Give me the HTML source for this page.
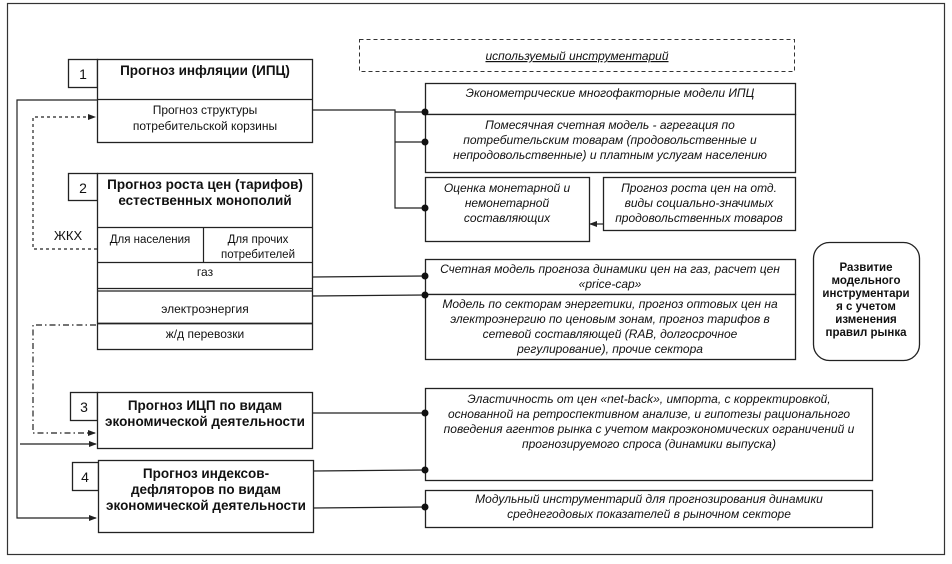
<!DOCTYPE html>
<html><head><meta charset="utf-8"><style>
html,body{margin:0;padding:0;background:#fff;}
svg{display:block;font-family:"Liberation Sans",Arial,sans-serif;}
.b{fill:#fff;stroke:#222;stroke-width:1.3}
.l{stroke:#222;stroke-width:1.2;fill:none}
.t{font-size:12px;fill:#111;text-anchor:middle}
.i{font-size:12px;fill:#111;text-anchor:middle;font-style:italic}
.h{font-size:13.5px;font-weight:bold;fill:#111;text-anchor:middle}
.n{font-size:14px;fill:#111;text-anchor:middle}
</style></head><body>
<svg width="952" height="564" viewBox="0 0 952 564" xmlns="http://www.w3.org/2000/svg">
<defs>
<marker id="a" markerWidth="8" markerHeight="8" refX="7" refY="4" orient="auto" markerUnits="userSpaceOnUse"><path d="M0,1 L8,4 L0,7z" fill="#222"/></marker>
</defs>
<rect x="7.5" y="3.5" width="937" height="551" fill="none" stroke="#333" stroke-width="1.2"/>

<rect x="359.5" y="39.5" width="435" height="32" fill="none" stroke="#333" stroke-dasharray="4,3"/>
<text x="577" y="60" class="i" style="text-decoration:underline">используемый инструментарий</text>

<rect class="b" x="68.5" y="59.5" width="29" height="28"/>
<text class="n" x="83" y="79">1</text>
<rect class="b" x="97.5" y="59.5" width="215" height="83"/>
<line class="l" x1="97" y1="99.5" x2="312" y2="99.5"/>
<text class="h" x="205" y="75">Прогноз инфляции (ИПЦ)</text>
<text class="t" x="205" y="114">Прогноз структуры</text>
<text class="t" x="205" y="130">потребительской корзины</text>

<rect class="b" x="68.5" y="173.5" width="29" height="27"/>
<text class="n" x="83" y="193">2</text>
<rect class="b" x="97.5" y="173.5" width="215" height="176"/>
<text class="h" x="205" y="189">Прогноз роста цен (тарифов)</text>
<text class="h" x="205" y="205">естественных монополий</text>
<line class="l" x1="97" y1="227.5" x2="312" y2="227.5"/>
<line class="l" x1="203.5" y1="227" x2="203.5" y2="262"/>
<text class="t" x="150" y="243" style="font-size:11.5px">Для населения</text>
<text class="t" x="258" y="243" style="font-size:11.5px">Для прочих</text>
<text class="t" x="258" y="258" style="font-size:11.5px">потребителей</text>
<line class="l" x1="97" y1="262.5" x2="312" y2="262.5"/>
<text class="t" x="205" y="276">газ</text>
<line class="l" x1="97" y1="288.5" x2="312" y2="288.5"/>
<line class="l" x1="97" y1="291" x2="312" y2="291"/>
<text class="t" x="205" y="313">электроэнергия</text>
<line class="l" x1="97" y1="323.5" x2="312" y2="323.5" style="stroke-width:1.8"/>
<text class="t" x="205" y="338">ж/д перевозки</text>

<rect class="b" x="70.5" y="392.5" width="27" height="28"/>
<text class="n" x="84" y="412">3</text>
<rect class="b" x="97.5" y="392.5" width="215" height="56"/>
<text class="h" x="205" y="410">Прогноз ИЦП по видам</text>
<text class="h" x="205" y="426">экономической деятельности</text>

<rect class="b" x="72.5" y="462.5" width="26" height="28"/>
<text class="n" x="85" y="482">4</text>
<rect class="b" x="98.5" y="460.5" width="215" height="72"/>
<text class="h" x="206" y="478">Прогноз индексов-</text>
<text class="h" x="206" y="494">дефляторов по видам</text>
<text class="h" x="206" y="510">экономической деятельности</text>

<polyline class="l" points="97,100 17,100 17,518 96,518" marker-end="url(#a)"/>
<line class="l" x1="20" y1="444" x2="96" y2="444" marker-end="url(#a)"/>
<polyline class="l" points="97,249 33,249 33,117 95,117" stroke-dasharray="3,3" marker-end="url(#a)"/>
<text class="t" x="68" y="240" style="font-size:13px">ЖКХ</text>
<polyline class="l" points="96,325 33,325 33,433 95,433" stroke-dasharray="6,3,1.5,3" marker-end="url(#a)"/>

<rect class="b" x="425.5" y="83.5" width="370" height="31"/>
<text class="i" x="610" y="97">Эконометрические многофакторные модели ИПЦ</text>
<rect class="b" x="425.5" y="114.5" width="370" height="58"/>
<text class="i" x="610" y="129">Помесячная счетная модель - агрегация по</text>
<text class="i" x="610" y="144">потребительским товарам (продовольственные и</text>
<text class="i" x="610" y="159">непродовольственные) и платным услугам населению</text>
<rect class="b" x="425.5" y="177.5" width="164" height="64"/>
<text class="i" x="507" y="192">Оценка монетарной и</text>
<text class="i" x="507" y="207">немонетарной</text>
<text class="i" x="507" y="222">составляющих</text>
<rect class="b" x="603.5" y="177.5" width="192" height="53"/>
<text class="i" x="699" y="192">Прогноз роста цен на отд.</text>
<text class="i" x="699" y="207">виды социально-значимых</text>
<text class="i" x="699" y="222">продовольственных товаров</text>
<line class="l" x1="603" y1="224" x2="590" y2="224" marker-end="url(#a)"/>

<polyline class="l" points="312,110 395,110 395,208 425,208"/>
<line class="l" x1="395" y1="112" x2="425" y2="112"/>
<line class="l" x1="395" y1="142" x2="425" y2="142"/>
<circle cx="425" cy="112" r="3.5" fill="#111"/>
<circle cx="425" cy="142" r="3.5" fill="#111"/>
<circle cx="425" cy="208" r="3.5" fill="#111"/>

<rect class="b" x="425.5" y="259.5" width="370" height="35"/>
<text class="i" x="610" y="273">Счетная модель прогноза динамики цен на газ, расчет цен</text>
<text class="i" x="610" y="288">«price-cap»</text>
<rect class="b" x="425.5" y="294.5" width="370" height="65"/>
<text class="i" x="610" y="308">Модель по секторам энергетики, прогноз оптовых цен на</text>
<text class="i" x="610" y="323">электроэнергию по ценовым зонам, прогноз тарифов в</text>
<text class="i" x="610" y="338">сетевой составляющей (RAB, долгосрочное</text>
<text class="i" x="610" y="353">регулирование), прочие сектора</text>
<line class="l" x1="312" y1="277" x2="425" y2="276"/>
<line class="l" x1="312" y1="296" x2="425" y2="295"/>
<circle cx="425" cy="276" r="3.5" fill="#111"/>
<circle cx="425" cy="295" r="3.5" fill="#111"/>

<rect class="b" x="425.5" y="388.5" width="447" height="92"/>
<text class="i" x="649" y="403">Эластичность от цен «net-back», импорта, с корректировкой,</text>
<text class="i" x="649" y="418">основанной на ретроспективном анализе, и гипотезы рационального</text>
<text class="i" x="649" y="433">поведения агентов рынка с учетом макроэкономических ограничений и</text>
<text class="i" x="649" y="448">прогнозируемого спроса (динамики выпуска)</text>
<rect class="b" x="425.5" y="490.5" width="447" height="37"/>
<text class="i" x="649" y="503">Модульный инструментарий для прогнозирования динамики</text>
<text class="i" x="649" y="518">среднегодовых показателей в рыночном секторе</text>
<line class="l" x1="312" y1="413" x2="425" y2="413"/>
<line class="l" x1="313" y1="471" x2="425" y2="470"/>
<line class="l" x1="313" y1="508" x2="425" y2="507"/>
<circle cx="425" cy="413" r="3.5" fill="#111"/>
<circle cx="425" cy="470" r="3.5" fill="#111"/>
<circle cx="425" cy="507" r="3.5" fill="#111"/>

<rect class="b" x="813.5" y="242.5" width="106" height="118" rx="16"/>
<g style="font-size:11.5px;font-weight:bold;fill:#111;text-anchor:middle">
<text x="866" y="271">Развитие</text>
<text x="866" y="284">модельного</text>
<text x="866" y="297">инструментари</text>
<text x="866" y="310">я с учетом</text>
<text x="866" y="323">изменения</text>
<text x="866" y="336">правил рынка</text>
</g>
</svg>
</body></html>
